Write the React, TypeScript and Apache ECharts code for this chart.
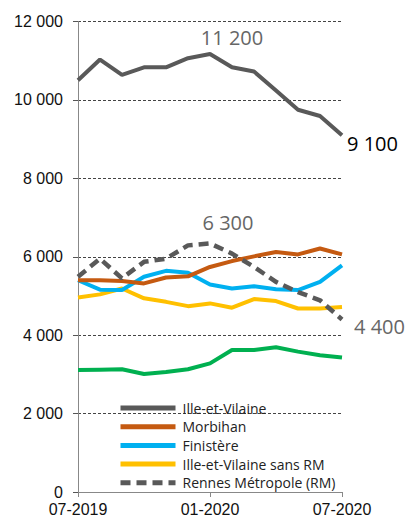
import React, { useEffect, useRef } from "react";
import * as echarts from "echarts";

const categories = ["07-2019","08-2019","09-2019","10-2019","11-2019","12-2019","01-2020","02-2020","03-2020","04-2020","05-2020","06-2020","07-2020"];
const shownXLabels = ["07-2019", "01-2020", "07-2020"];

const ileEtVilaine = [10500, 11030, 10640, 10830, 10830, 11065, 11170, 10835, 10725, 10240, 9750, 9590, 9100];
const morbihan = [5400, 5400, 5380, 5320, 5470, 5500, 5740, 5890, 6010, 6120, 6060, 6210, 6060];
const finistere = [5400, 5160, 5150, 5490, 5640, 5590, 5290, 5190, 5250, 5170, 5150, 5360, 5780];
const ileSansRM = [4960, 5040, 5190, 4940, 4850, 4740, 4810, 4700, 4920, 4870, 4680, 4680, 4720];
const rennesMetropole = [5490, 5950, 5450, 5870, 5950, 6290, 6340, 6080, 5740, 5360, 5100, 4890, 4400];
const cotesArmor = [3110, 3120, 3130, 3010, 3060, 3130, 3280, 3620, 3620, 3690, 3580, 3490, 3430];

const legendNames = ["Ille-et-Vilaine", "Morbihan", "Finistère", "Ille-et-Vilaine sans RM", "Rennes Métropole (RM)"];

const fmt = (v: number) => {
  const s = String(Math.round(v));
  return s.replace(/\B(?=(\d{3})+(?!\d))/g, " ");
};
const fmtRounded = (v: number) => fmt(Math.round(v / 100) * 100);

type LabelSpec = { idx: number; position: string; offset: number[]; color: string };

function withLabels(values: number[], specs: LabelSpec[]) {
  return values.map((v, i) => {
    const s = specs.find((x) => x.idx === i);
    if (!s) return v;
    return {
      value: v,
      symbol: "circle",
      symbolSize: 0,
      label: {
        show: true,
        position: s.position,
        offset: s.offset,
        color: s.color,
        fontSize: 20,
        fontFamily: "Open Sans",
        formatter: (p: any) => fmtRounded(p.value),
      },
    };
  });
}

export default function App() {
  const ref = useRef<HTMLDivElement>(null);
  useEffect(() => {
    const chart = echarts.init(ref.current!, null, { renderer: "svg" });
    const base = {
      type: "line",
      symbol: "none",
      showSymbol: true,
      smooth: false,
      silent: true,
    };
    chart.setOption({
      animation: false,
      grid: { left: 78, right: 67, top: 21.5, bottom: 28, containLabel: false },
      legend: {
        data: legendNames,
        orient: "vertical",
        left: 113,
        top: 396,
        itemWidth: 55,
        itemHeight: 14,
        itemGap: 4.7,
        itemStyle: { color: "transparent", borderWidth: 0, opacity: 0 },
        lineStyle: { width: 5 },
        textStyle: { fontFamily: "Open Sans", fontSize: 14, lineHeight: 14, color: "#222", padding: [0, 0, 0, 2] },
      },
      xAxis: {
        type: "category",
        data: categories,
        boundaryGap: false,
        axisLine: { show: true, lineStyle: { color: "#888", width: 1 } },
        axisTick: {
          show: true,
          length: 5,
          lineStyle: { color: "#888" },
          interval: (i: number, v: string) => shownXLabels.includes(v),
        },
        axisLabel: {
          interval: (i: number, v: string) => shownXLabels.includes(v),
          fontFamily: "Liberation Sans",
          fontSize: 16,
          color: "#111",
          margin: 9,
        },
        splitLine: { show: false },
      },
      yAxis: {
        type: "value",
        min: 0,
        max: 12000,
        interval: 2000,
        axisLine: { show: true, lineStyle: { color: "#888", width: 1 } },
        axisTick: { show: true, length: 5, lineStyle: { color: "#555" } },
        axisLabel: {
          formatter: (v: number) => fmt(v),
          fontFamily: "Liberation Sans",
          fontSize: 16,
          color: "#111",
          margin: 15,
        },
        splitLine: { show: true, lineStyle: { color: "#444", width: 1, type: [3, 2] } },
      },
      series: [
        { ...base, name: "Côtes-d'Armor", data: cotesArmor, lineStyle: { color: "#00B050", width: 4 }, itemStyle: { color: "#00B050" } },
        { ...base, name: "Ille-et-Vilaine sans RM", data: ileSansRM, lineStyle: { color: "#FFC000", width: 4 }, itemStyle: { color: "#FFC000" } },
        { ...base, name: "Finistère", data: finistere, lineStyle: { color: "#00B0F0", width: 4 }, itemStyle: { color: "#00B0F0" } },
        { ...base, name: "Morbihan", data: morbihan, lineStyle: { color: "#C55A11", width: 4 }, itemStyle: { color: "#C55A11" } },
        {
          ...base,
          name: "Ille-et-Vilaine",
          data: withLabels(ileEtVilaine, [
            { idx: 6, position: "top", offset: [22, -2], color: "#666" },
            { idx: 12, position: "right", offset: [0, 8], color: "#000" },
          ]),
          lineStyle: { color: "#595959", width: 4 },
          itemStyle: { color: "#595959" },
        },
        {
          ...base,
          name: "Rennes Métropole (RM)",
          data: withLabels(rennesMetropole, [
            { idx: 6, position: "top", offset: [18, -6], color: "#666" },
            { idx: 12, position: "right", offset: [7, 7], color: "#666" },
          ]),
          lineStyle: { color: "#595959", width: 4.5, type: [10, 6] },
          itemStyle: { color: "#595959" },
        },
      ],
    });
    return () => chart.dispose();
  }, []);
  return <div ref={ref} style={{ width: 409, height: 520, position: "absolute", left: 0, top: 0 }} />;
}
